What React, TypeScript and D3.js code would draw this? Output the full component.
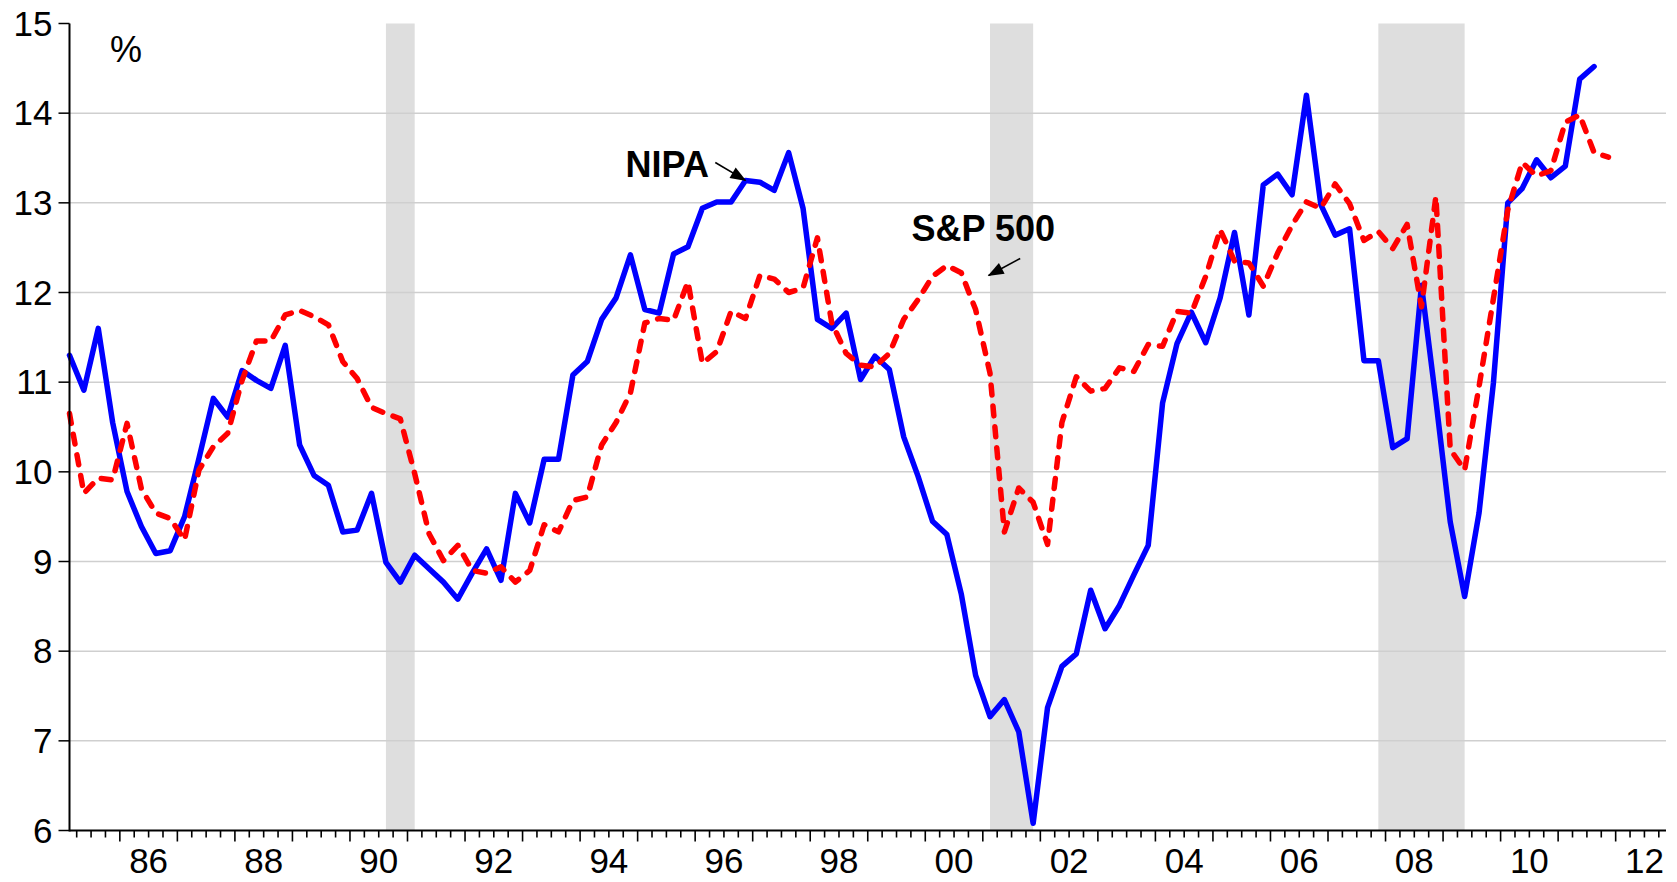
import React, { useEffect } from 'react';
import * as d3 from 'd3';

// Quarterly observations, first one is 1985Q1
const START_YEAR = 1985;
const LAST_INDEX = 111; // axis runs to 2012Q4

const nipa = [
  11.30, 10.91, 11.60, 10.55, 9.78, 9.39, 9.09, 9.12, 9.50, 10.15,
  10.82, 10.61, 11.13, 11.02, 10.93, 11.41, 10.30, 9.96, 9.85, 9.33,
  9.35, 9.76, 8.99, 8.77, 9.07, 8.92, 8.77, 8.58, 8.87, 9.14,
  8.79, 9.76, 9.43, 10.14, 10.14, 11.08, 11.23, 11.70, 11.94, 12.42,
  11.81, 11.77, 12.43, 12.51, 12.94, 13.01, 13.01, 13.25, 13.23, 13.14,
  13.56, 12.94, 11.70, 11.60, 11.77, 11.03, 11.29, 11.14, 10.39, 9.95,
  9.45, 9.30, 8.64, 7.73, 7.27, 7.46, 7.10, 6.08, 7.37, 7.83,
  7.97, 8.68, 8.25, 8.51, 8.85, 9.18, 10.77, 11.43, 11.78, 11.44,
  11.94, 12.67, 11.75, 13.20, 13.32, 13.09, 14.20, 12.98, 12.64, 12.71,
  11.24, 11.24, 10.27, 10.37, 12.08, 10.80, 9.44, 8.61, 9.54, 10.99,
  13.00, 13.16, 13.48, 13.28, 13.41, 14.38, 14.52,
];

const sp500 = [
  10.65, 9.76, 9.93, 9.91, 10.54, 9.81, 9.54, 9.48, 9.24, 10.02,
  10.28, 10.43, 11.02, 11.46, 11.46, 11.75, 11.80, 11.73, 11.64, 11.23,
  11.04, 10.72, 10.65, 10.59, 9.98, 9.31, 9.01, 9.18, 8.90, 8.87,
  8.94, 8.77, 8.90, 9.41, 9.33, 9.68, 9.72, 10.30, 10.55, 10.88,
  11.66, 11.71, 11.69, 12.12, 11.21, 11.34, 11.79, 11.71, 12.19, 12.15,
  12.00, 12.05, 12.61, 11.66, 11.32, 11.19, 11.17, 11.32, 11.70, 11.92,
  12.18, 12.30, 12.22, 11.81, 11.10, 9.33, 9.82, 9.66, 9.19, 10.55,
  11.06, 10.90, 10.93, 11.16, 11.12, 11.42, 11.40, 11.79, 11.77, 12.18,
  12.70, 12.35, 12.33, 12.07, 12.44, 12.75, 13.01, 12.94, 13.21, 12.99,
  12.58, 12.68, 12.49, 12.76, 11.84, 13.07, 10.25, 10.02, 10.95, 11.93,
  12.92, 13.45, 13.30, 13.36, 13.90, 13.98, 13.56, 13.51,
];

const yTicks = [6, 7, 8, 9, 10, 11, 12, 13, 14, 15];
const xLabels = ['86', '88', '90', '92', '94', '96', '98', '00', '02', '04', '06', '08', '10', '12'];
const recessions = [
  ['1990Q3', '1991Q1'],
  ['2001Q1', '2001Q4'],
  ['2007Q4', '2009Q2'],
];

const qIndex = (s: string) => (+s.slice(0, 4) - START_YEAR) * 4 + (+s.slice(5)) - 1;
const fullYear = (yy: string) => (+yy < 50 ? 2000 + +yy : 1900 + +yy);

const FONT = '"Liberation Sans", Arial, Helvetica, sans-serif';

export default function App() {
  useEffect(() => {
    document.body.style.margin = '0';
    document.body.style.overflow = 'hidden';
  }, []);

  const W = 1677, H = 882;
  const x = d3.scaleLinear().domain([0, LAST_INDEX]).range([69.5, 1666]);
  const y = d3.scaleLinear().domain([6, 15]).range([830.5, 23.5]);
  const line = d3.line<number>().x((_, i) => x(i)).y(d => y(d));

  const x0 = x(0), x1 = x(LAST_INDEX), yTop = y(15), yBot = y(6);
  const ticks = d3.range(0, LAST_INDEX).map(k => ({ pos: x(k + 0.5), major: (k + 1) % 4 === 0 }));

  return (
    <svg width={W} height={H} style={{ display: 'block', background: '#fff' }} fontFamily={FONT}>
      <defs>
        <marker id="ah" viewBox="0 0 16 12" refX="15" refY="6" markerWidth="16" markerHeight="12"
          markerUnits="userSpaceOnUse" orient="auto" overflow="visible">
          <path d="M0,0 L16,6 L0,12 z" fill="#000" />
        </marker>
      </defs>

      {/* recession shading */}
      {recessions.map(([a, b]) => (
        <rect key={a} x={x(qIndex(a))} y={yTop} width={x(qIndex(b)) - x(qIndex(a))} height={yBot - yTop}
          fill="#dedede" />
      ))}

      {/* gridlines */}
      {yTicks.filter(t => t > 6 && t < 15).map(t => (
        <line key={t} x1={x0} x2={x1} y1={y(t)} y2={y(t)} stroke="#cfcfcf" strokeWidth={1.5} />
      ))}

      {/* series */}
      <path d={line(nipa) ?? ''} fill="none" stroke="#0000ff" strokeWidth={5.5} strokeLinejoin="round"
        strokeLinecap="round" />
      <path d={line(sp500) ?? ''} fill="none" stroke="#ff0000" strokeWidth={5.5} strokeLinejoin="round"
        strokeLinecap="round" strokeDasharray="10 11" />

      {/* axes */}
      <line x1={x0} x2={x0} y1={yTop} y2={yBot + 1} stroke="#000" strokeWidth={2} />
      <line x1={x0} x2={x1} y1={yBot} y2={yBot} stroke="#000" strokeWidth={2} />
      {yTicks.map(t => (
        <g key={t}>
          <line x1={x0 - 11} x2={x0} y1={y(t)} y2={y(t)} stroke="#000" strokeWidth={1.5} />
          <text x={x0 - 17} y={y(t)} dy="0.35em" textAnchor="end" fontSize={35} fill="#000">{t}</text>
        </g>
      ))}
      {ticks.map((t, i) => (
        <line key={i} x1={t.pos} x2={t.pos} y1={yBot} y2={yBot + (t.major ? 11 : 7)} stroke="#000" strokeWidth={1.6} />
      ))}
      {xLabels.map(l => (
        <text key={l} x={x((fullYear(l) - START_YEAR) * 4 + 1.5)} y={873} textAnchor="middle" fontSize={35} fill="#000">{l}</text>
      ))}

      <text x={110} y={62} fontSize={36} fill="#000">%</text>

      {/* annotations */}
      <text x={x(44.46)} y={y(13.29)} textAnchor="end" fontSize={36} fontWeight="bold" fill="#000">NIPA</text>
      <line x1={x(44.9)} y1={y(13.45)} x2={x(47.0)} y2={y(13.25)} stroke="#000" strokeWidth={1.6} markerEnd="url(#ah)" />
      <text x={x(58.55)} y={y(12.57)} fontSize={36} fontWeight="bold" fill="#000">S&amp;P 500</text>
      <line x1={x(66.1)} y1={y(12.38)} x2={x(63.9)} y2={y(12.19)} stroke="#000" strokeWidth={1.6} markerEnd="url(#ah)" />
    </svg>
  );
}
